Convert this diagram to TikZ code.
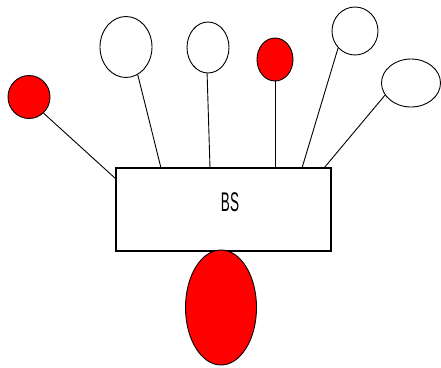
\documentclass[tikz,border=0pt]{standalone}
\usepackage{fontspec}
\setsansfont{Liberation Sans}
\usetikzlibrary{shapes.geometric, positioning}
\definecolor{ballred}{RGB}{255,0,0}

\begin{document}
\begin{tikzpicture}[x=1pt, y=-1pt,
    ball/.style={ellipse, draw=black, line width=0.9pt, inner sep=0pt},
    stalk/.style={draw=black, line width=0.9pt}]
    \useasboundingbox (0,0) rectangle (441,367);

    % Base station
    \node[draw=black, line width=1.2pt, minimum width=215pt, minimum height=83pt, inner sep=0pt]
        (bs) at (223.5,209.5) {};
    \node[font=\sffamily\fontsize{27}{27}\selectfont, xscale=0.5, inner sep=0pt]
        (bslabel) at (230,202) {BS};

    % Users on stalks
    \foreach \x/\y/\w/\h/\col/\ang/\ex/\ey/\num in {
        29/97/42/43/ballred/-48/116/179/1,
        126/47/52/61/white/-67/161/168/2,
        208/47.5/42/51/white/-92/210/168/3,
        275/59.5/36/43/ballred/-90/275/168/4,
        355/31/46/48/white/-135/302/168/5,
        411/83/59/48/white/-155/324/168/6} {
        \node[ball, fill=\col, minimum width=\w pt, minimum height=\h pt] (u\num) at (\x,\y) {};
        \coordinate (a\num) at (\ex,\ey);
        \draw[stalk] (u\num.\ang) -- (a\num);
    }

    % Big user below
    \node[ball, fill=ballred, minimum width=71pt, minimum height=115pt] (big) at (221,307.5) {};
\end{tikzpicture}
\end{document}
